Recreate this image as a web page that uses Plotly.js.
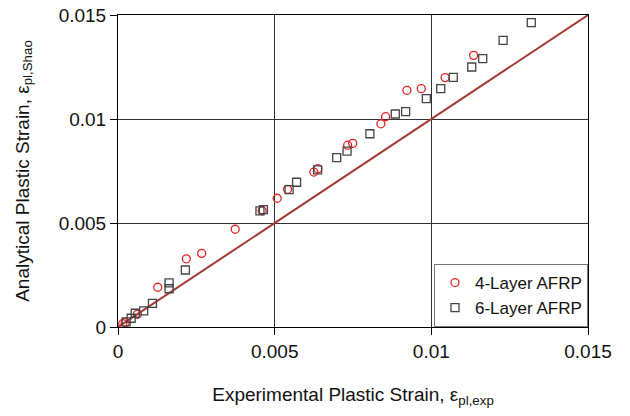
<!DOCTYPE html>
<html>
<head>
<meta charset="utf-8">
<script src="https://cdn.plot.ly/plotly-3.0.1.min.js"></script>
<style>html,body{margin:0;padding:0;background:#fff;}#chart{width:630px;height:416px;}</style>
</head>
<body>
<div id="chart"></div>
<script>
// 4-Layer AFRP (circles)
const x4 = [0.00015, 0.00023, 0.00062, 0.00127, 0.00218, 0.00267, 0.00374, 0.00460, 0.00508, 0.00541, 0.00625, 0.00638, 0.00733, 0.00749, 0.00839, 0.00854, 0.00922, 0.00968, 0.01044, 0.01135];
const y4 = [0.00016, 0.00021, 0.00061, 0.00191, 0.00328, 0.00354, 0.00470, 0.00559, 0.00619, 0.00662, 0.00745, 0.00761, 0.00874, 0.00883, 0.00977, 0.01011, 0.01138, 0.01146, 0.01199, 0.01306];
// 6-Layer AFRP (squares)
const x6 = [0.00026, 0.00042, 0.00055, 0.00082, 0.00110, 0.00163, 0.00163, 0.00215, 0.00453, 0.00464, 0.00546, 0.00570, 0.00637, 0.00698, 0.00731, 0.00804, 0.00885, 0.00918, 0.00984, 0.01030, 0.01070, 0.01129, 0.01164, 0.01229, 0.01319];
const y6 = [0.00025, 0.00042, 0.00066, 0.00078, 0.00114, 0.00212, 0.00184, 0.00274, 0.00558, 0.00564, 0.00660, 0.00696, 0.00755, 0.00814, 0.00846, 0.00929, 0.01024, 0.01035, 0.01098, 0.01146, 0.01200, 0.01250, 0.01290, 0.01378, 0.01463];
// 1:1 line
const lineX = [0, 0.015];
const lineY = [0, 0.015];
const tickVals = [0, 0.005, 0.01, 0.015];
const tickText = ["0", "0.005", "0.01", "0.015"];

const font = "Liberation Sans, Arial, sans-serif";
const traces = [
  {x: lineX, y: lineY, mode: 'lines', line: {color: '#a33b35', width: 2}, showlegend: false, hoverinfo: 'skip'},
  {x: x4, y: y4, mode: 'markers', name: '4-Layer AFRP',
   marker: {symbol: 'circle-open', size: 8, color: '#e02424', line: {width: 1.3, color: '#e02424'}}},
  {x: x6, y: y6, mode: 'markers', name: '6-Layer AFRP',
   marker: {symbol: 'square-open', size: 8, color: '#444444', line: {width: 1.3, color: '#444444'}}}
];
const axisCommon = {
  range: [0, 0.015], tickvals: tickVals, ticktext: tickText,
  showgrid: true, gridcolor: '#333333', gridwidth: 1,
  zeroline: false, showline: true, linecolor: '#000', linewidth: 1, mirror: true,
  ticks: 'outside', ticklen: 7, tickcolor: '#000',
  tickfont: {family: font, size: 19, color: '#111'}
};
const layout = {
  width: 630, height: 416,
  margin: {l: 118, r: 42, t: 15, b: 89},
  paper_bgcolor: '#fff', plot_bgcolor: '#fff',
  font: {family: font, color: '#111'},
  xaxis: Object.assign({}, axisCommon, {
    title: {text: 'Experimental Plastic Strain, ε<sub>pl,exp</sub>', font: {family: font, size: 19, color: '#111'}, standoff: 26}
  }),
  yaxis: Object.assign({}, axisCommon, {
    title: {text: 'Analytical Plastic Strain, ε<sub>pl,Shao</sub>', font: {family: font, size: 19, color: '#111'}, standoff: 24}
  }),
  legend: {x: 1, xanchor: 'right', y: 0, yanchor: 'bottom', bgcolor: '#fff', bordercolor: '#777', borderwidth: 1,
           font: {family: font, size: 17, color: '#111'}, itemwidth: 30, tracegroupgap: 4},
  showlegend: true
};
Plotly.newPlot('chart', traces, layout, {displayModeBar: false, staticPlot: true});
</script>
</body>
</html>
